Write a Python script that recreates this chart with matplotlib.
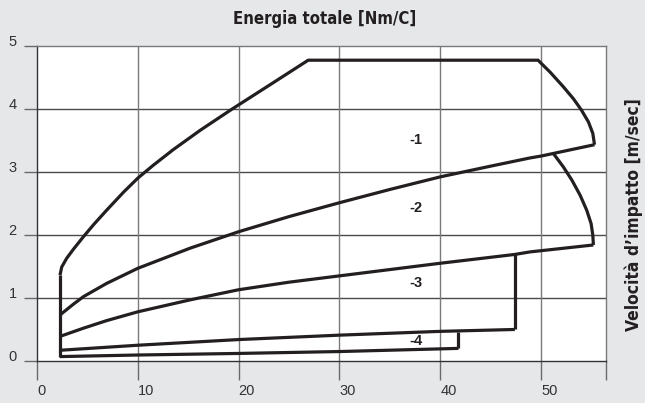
import matplotlib
matplotlib.use("Agg")
import matplotlib.pyplot as plt

# ---- data ----
x_ticks = [0, 10, 20, 30, 40, 50]
y_ticks = [0, 1, 2, 3, 4, 5]
x_max = 56.4

# left vertical boundary
left_x = [2.28, 2.28]
left_y = [0.07, 1.36]

# upper boundary of zone -1 (curve, flat top, right edge)
top_x = [2.28, 2.45, 2.95, 3.6, 4.6, 5.6, 6.9, 8.6, 10.0, 11.5, 13.5, 16.2, 19.3, 23.4, 26.9,
         49.7, 50.9, 52.2, 53.2, 54.0, 54.7, 55.13, 55.3]
top_y = [1.36, 1.49, 1.63, 1.77, 1.97, 2.16, 2.39, 2.68, 2.9, 3.1, 3.35, 3.66, 3.99, 4.41, 4.77,
         4.77, 4.58, 4.35, 4.16, 3.98, 3.79, 3.61, 3.43]

# boundary between zone -1 and -2
b_x = [2.28, 3.6, 4.6, 6.9, 10, 15.2, 20, 25, 30, 35, 40, 45, 48.9, 50, 55.3]
b_y = [0.73, 0.90, 1.02, 1.23, 1.47, 1.79, 2.05, 2.29, 2.51, 2.72, 2.92, 3.09, 3.22, 3.25, 3.43]

# right edge of zone -2
r2_x = [51.22, 52.2, 53.05, 53.87, 54.53, 54.96, 55.13, 55.19]
r2_y = [3.29, 3.08, 2.87, 2.63, 2.39, 2.18, 2.0, 1.84]

# boundary between zone -2 and -3
c_x = [2.28, 4.6, 6.9, 10, 15.2, 20, 25, 30, 35, 40, 47.4, 48.9, 55.19]
c_y = [0.39, 0.52, 0.64, 0.78, 0.97, 1.13, 1.25, 1.35, 1.45, 1.55, 1.69, 1.73, 1.84]

# right edge of zone -3
r3_x = [47.4, 47.4]
r3_y = [1.69, 0.50]

# boundary between zone -3 and -4
d_x = [2.28, 10, 20, 30, 40, 47.4]
d_y = [0.17, 0.25, 0.34, 0.41, 0.47, 0.50]

# right edge of zone -4
r4_x = [41.8, 41.8]
r4_y = [0.46, 0.20]

# lower boundary of zone -4
e_x = [2.28, 10, 20, 30, 41.8]
e_y = [0.07, 0.095, 0.12, 0.15, 0.20]

zone_labels = ["-1", "-2", "-3", "-4"]
zone_x = [37.55, 37.55, 37.55, 37.55]
zone_y = [3.50, 2.42, 1.23, 0.31]

title = "Energia totale [Nm/C]"
ylabel = "Velocità d’impatto [m/sec]"

# ---- figure ----
BG = "#e6e7e9"
INK = "#231f20"
fig = plt.figure(figsize=(6.45, 4.03), dpi=100, facecolor=BG)
ax = fig.add_axes([37/645, 1-361/403, (605.6-37)/645, (361-45.7)/403])
ax.set_facecolor("white")
ax.set_xlim(0, x_max)
ax.set_ylim(0, 5)

for yv in y_ticks[1:-1]:
    ax.axhline(yv, color="#4a4a4a", lw=1.0, zorder=1)
for xv in x_ticks[1:]:
    ax.axvline(xv, color="#7a7a7a", lw=1.0, zorder=1)

for s in ["top", "right"]:
    ax.spines[s].set_color("#7a7a7a")
    ax.spines[s].set_linewidth(1.0)
for s in ["left", "bottom"]:
    ax.spines[s].set_color("#333333")
    ax.spines[s].set_linewidth(1.0)

ax.set_xticks(x_ticks + [x_max])
ax.set_xticklabels([str(v) for v in x_ticks] + [""])
ax.set_yticks(y_ticks)
ax.set_yticklabels([str(v) for v in y_ticks])
tick_font = ["Liberation Sans", "DejaVu Sans"]
ax.tick_params(axis="x", direction="out", length=13.5, width=1.0, color="#6a6a6a",
               pad=3, labelsize=10.5, labelcolor="#333333")
ax.tick_params(axis="y", direction="out", length=9.5, width=1.0, color="#6a6a6a",
               pad=5, labelsize=10.5, labelcolor="#333333")
for lab in ax.get_xticklabels():
    lab.set_ha("left")
    lab.set_family(tick_font)
for lab in ax.get_yticklabels():
    lab.set_va("baseline")
    lab.set_family(tick_font)

lw = 2.3
kw = dict(color=INK, lw=lw, solid_joinstyle="round", solid_capstyle="butt", zorder=3)
for xs, ys in [(left_x, left_y), (top_x, top_y), (b_x, b_y), (r2_x, r2_y), (c_x, c_y),
               (r3_x, r3_y), (d_x, d_y), (r4_x, r4_y), (e_x, e_y)]:
    ax.plot(xs, ys, **kw)

for t, xv, yv in zip(zone_labels, zone_x, zone_y):
    ax.text(xv, yv, t, ha="center", va="center", fontsize=10.5, fontweight="bold",
            color=INK, family=tick_font, zorder=4)

head_font = ["DejaVu Sans"]
fig.text(325/645, 1-19/403, title, ha="center", va="center", fontsize=12,
         fontweight="bold", fontstretch="condensed", color=INK, family=head_font)
fig.text(634/645, 1-215/403, ylabel, ha="center", va="center", rotation=90,
         fontsize=12.5, fontweight="bold", fontstretch="condensed", color=INK,
         family=head_font)

fig.savefig("out.png", dpi=100, facecolor=BG)
